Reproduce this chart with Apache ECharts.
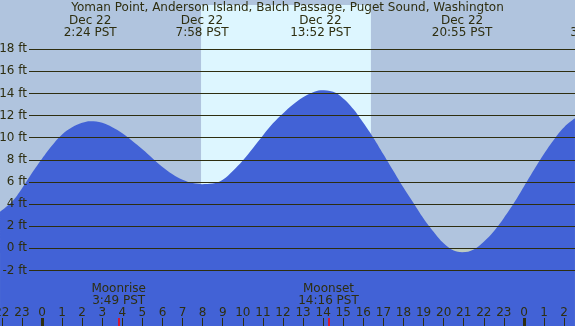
<!DOCTYPE html>
<html>
<head>
<meta charset="utf-8">
<script src="https://cdn.jsdelivr.net/npm/echarts@6/dist/echarts.min.js"></script>
<style>
html, body { margin: 0; padding: 0; }
#chart { width: 575px; height: 326px; }
</style>
</head>
<body>
<div id="chart"></div>
<script>
var title = "Yoman Point, Anderson Island, Balch Passage, Puget Sound, Washington";

// tide height (ft) vs hours after midnight Dec 22
var tideHours = [-2.09, -1.5, -1.0, -0.5, 0, 0.5, 1.0, 1.5, 2.0, 2.4,
	3.0, 3.5, 4.0, 4.5, 5.0, 5.5, 6.0, 6.5, 7.0, 7.5, 7.97,
	8.5, 9.0, 9.5, 10.0, 10.5, 11.0, 11.5, 12.0, 12.5, 13.0, 13.5, 13.87,
	14.5, 15.0, 15.5, 16.0, 16.5, 17.0, 17.5, 18.0, 18.5, 19.0, 19.5, 20.0, 20.5, 20.92,
	21.5, 22.0, 22.5, 23.0, 23.5, 24.0, 24.5, 25.0, 25.5, 26.0, 26.54];
var tideFeet = [3.3, 4.2, 5.4, 6.8, 8.1, 9.3, 10.3, 10.95, 11.35, 11.5,
	11.35, 10.95, 10.4, 9.7, 8.95, 8.15, 7.35, 6.7, 6.2, 5.9, 5.8,
	5.85, 6.2, 7.0, 7.95, 9.05, 10.2, 11.3, 12.2, 13.0, 13.65, 14.1, 14.3,
	14.15, 13.55, 12.6, 11.35, 10.0, 8.5, 7.0, 5.5, 4.1, 2.7, 1.5, 0.45, -0.2, -0.35,
	-0.1, 0.6, 1.55, 2.75, 4.1, 5.6, 7.1, 8.55, 9.85, 10.95, 11.75];

var hourTicks = [-2, -1, 0, 1, 2, 3, 4, 5, 6, 7, 8, 9, 10, 11, 12, 13, 14, 15, 16, 17, 18, 19, 20, 21, 22, 23, 24, 25, 26];
var hourLabels = ["22", "23", "0", "1", "2", "3", "4", "5", "6", "7", "8", "9", "10", "11", "12",
	"13", "14", "15", "16", "17", "18", "19", "20", "21", "22", "23", "0", "1", "2"];
var midnightTicks = [0, 24];

var extremeHours = [2.40, 7.967, 13.867, 20.917, 27.62];
var extremeLabels = ["Dec 22\n2:24 PST", "Dec 22\n7:58 PST", "Dec 22\n13:52 PST", "Dec 22\n20:55 PST", "Dec 23\n3:37 PST"];

var moonHours = [3.817, 14.267];
var moonLabels = ["Moonrise\n3:49 PST", "Moonset\n14:16 PST"];

var sunrise = 7.92, sunset = 16.38;

var FONT = "DejaVu Sans",
	INK = "#2e2e10",
	WATER = "#4262d6",
	NIGHT = "#b0c4de",
	DAY = "#ddf6ff",
	BELOW = "#bccbc2";

// x scale: hour -2.09 sits on the left edge, 20.08 px per hour
var xMin = -2.0916, xMax = 29.53;

var tideData = tideHours.map(function (h, i) { return [h, tideFeet[i]]; });

function bottomAxis(extra) {
	var ax = {
		gridIndex: 0, type: "value", position: "bottom", min: xMin, max: xMax, z: 10,
		axisLine: { show: false, onZero: false },
		splitLine: { show: false },
		axisTick: { show: false },
		axisLabel: { show: false }
	};
	for (var k in extra) ax[k] = extra[k];
	return ax;
}

var option = {
	backgroundColor: NIGHT,
	animation: false,
	title: {
		text: title, left: "center", top: 1, padding: 0,
		textStyle: { fontFamily: FONT, fontSize: 12, fontWeight: "normal", color: INK, lineHeight: 14 }
	},
	grid: [
		{ left: 0, right: -60, top: 5, bottom: -10.8, outerBoundsMode: "none" },
		{ left: 29, right: 0, top: 49.2, bottom: 55.6, outerBoundsMode: "none" }
	],
	xAxis: [
		bottomAxis({
			axisTick: { customValues: hourTicks, inside: true, length: 18.8, lineStyle: { color: INK, width: 1 } },
			axisLabel: {
				customValues: hourTicks, inside: true, margin: 23.5, verticalAlign: "middle",
				fontFamily: FONT, fontSize: 12, color: INK,
				formatter: function (v) { return hourLabels[hourTicks.indexOf(v)]; }
			}
		}),
		bottomAxis({
			axisTick: { customValues: midnightTicks, inside: true, length: 18.8, lineStyle: { color: INK, width: 3 } }
		}),
		bottomAxis({
			axisTick: { customValues: moonHours, inside: true, length: 18.8, lineStyle: { color: "#ff0000", width: 1.5 } },
			axisLabel: {
				customValues: moonHours, inside: true, margin: 42, verticalAlign: "middle", lineHeight: 12.5,
				fontFamily: FONT, fontSize: 12, color: INK,
				formatter: function (v) { return moonLabels[moonHours.indexOf(v)]; }
			}
		}),
		bottomAxis({
			position: "top",
			axisLabel: {
				customValues: extremeHours, inside: true, margin: 22, verticalAlign: "middle", lineHeight: 12.4,
				fontFamily: FONT, fontSize: 12, color: INK,
				formatter: function (v) { return extremeLabels[extremeHours.indexOf(v)]; }
			}
		}),
		{ gridIndex: 1, type: "value", min: 0, max: 1, show: false }
	],
	yAxis: [
		{ gridIndex: 0, type: "value", min: -8, max: 22, show: false },
		{
			gridIndex: 1, type: "value", min: -2, max: 18, interval: 2, z: 10,
			axisLine: { show: false },
			axisTick: { show: false },
			splitLine: { show: true, lineStyle: { color: INK, width: 1 } },
			axisLabel: { margin: 2, formatter: "{value} ft", fontFamily: FONT, fontSize: 12, color: INK }
		}
	],
	series: [{
		type: "line",
		xAxisIndex: 0,
		yAxisIndex: 0,
		data: tideData,
		smooth: 0.4,
		symbol: "none",
		z: 2,
		lineStyle: { width: 0 },
		areaStyle: { color: WATER, opacity: 1, origin: "start" },
		markArea: {
			silent: true,
			data: [
				[{ xAxis: sunrise, itemStyle: { color: DAY } }, { xAxis: sunset }],
				[{ yAxis: -8, itemStyle: { color: BELOW } }, { yAxis: 0 }]
			]
		}
	}]
};

var chart = echarts.init(document.getElementById("chart"));
chart.setOption(option);
</script>
</body>
</html>
